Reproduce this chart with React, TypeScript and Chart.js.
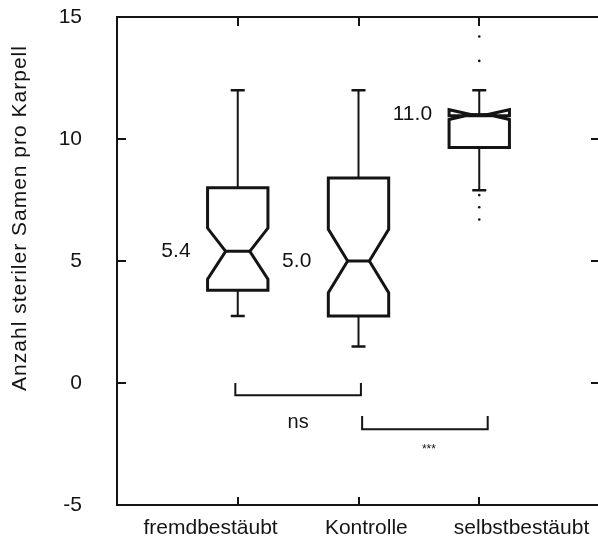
import React, { useEffect, useRef } from 'react';
import { Chart, registerables } from 'chart.js';

Chart.register(...registerables);

// ---- data ----
const categories = ['fremdbestäubt', 'Kontrolle', 'selbstbestäubt'];
const whiskerLow = [2.75, 1.5, 7.9];
const q1 = [3.8, 2.75, 9.65];
const notchLow = [4.25, 3.7, 10.8];
const median = [5.4, 5.0, 11.0];
const notchHigh = [6.35, 6.3, 11.2];
const q3 = [8.0, 8.4, 10.95];
const whiskerHigh = [12.0, 12.0, 12.0];
const outliers: number[][] = [[], [], [14.2, 13.2, 7.7, 7.2, 6.7]];
const medianLabels = ['5.4', '5.0', '11.0'];
const yTicks = [-5, 0, 5, 10, 15];
const yTitle = 'Anzahl steriler Samen pro Karpell';

const bracketFrom = [0.98, 2.03];
const bracketTo = [2.02, 3.07];
const bracketTop = [0, -1.35];
const bracketBase = [-0.5, -1.9];
const bracketText = ['ns', '***'];
const bracketTextY = [-1.6, -2.75];

// ---- style ----
const INK = '#141414';
const FONT = "'Liberation Sans', Arial, Helvetica, sans-serif";
const BOX_HALF = 0.25;
const NOTCH_INNER = [0.1, 0.09, 0.07];
// horizontal shift of category labels relative to their tick (axis units)
const LABEL_SHIFT = [-0.225, 0.065, 0.35];

const zeroPad = (s: any) => {
  s.paddingTop = 0;
  s.paddingBottom = 0;
  s.paddingLeft = 0;
  s.paddingRight = 0;
};

const boxPlugin = {
  id: 'notchedBoxes',
  afterDatasetsDraw(chart: any) {
    const { ctx, chartArea: a, scales } = chart;
    const x = scales.x;
    const y = scales.y;
    ctx.save();
    ctx.strokeStyle = INK;
    ctx.fillStyle = INK;
    ctx.lineCap = 'butt';

    // frame
    ctx.lineWidth = 2;
    ctx.beginPath();
    ctx.rect(a.left, a.top, a.right - a.left, a.bottom - a.top);
    ctx.stroke();

    // inward ticks
    ctx.lineWidth = 2;
    ctx.beginPath();
    yTicks.forEach((v) => {
      const py = Math.round(y.getPixelForValue(v));
      ctx.moveTo(a.left, py);
      ctx.lineTo(a.left + 9, py);
      ctx.moveTo(a.right, py);
      ctx.lineTo(a.right - 9, py);
    });
    categories.forEach((_, i) => {
      const px = Math.round(x.getPixelForValue(i + 1));
      ctx.moveTo(px, a.bottom);
      ctx.lineTo(px, a.bottom - 8);
      ctx.moveTo(px, a.top);
      ctx.lineTo(px, a.top + 9);
    });
    ctx.stroke();

    categories.forEach((_, i) => {
      const c = i + 1;
      const cx = x.getPixelForValue(c);
      const L = x.getPixelForValue(c - BOX_HALF);
      const R = x.getPixelForValue(c + BOX_HALF);
      const iL = x.getPixelForValue(c - NOTCH_INNER[i]);
      const iR = x.getPixelForValue(c + NOTCH_INNER[i]);
      const pQ1 = y.getPixelForValue(q1[i]);
      const pQ3 = y.getPixelForValue(q3[i]);
      const pMed = y.getPixelForValue(median[i]);
      const pNL = y.getPixelForValue(notchLow[i]);
      const pNH = y.getPixelForValue(notchHigh[i]);
      const pWL = y.getPixelForValue(whiskerLow[i]);
      const pWH = y.getPixelForValue(whiskerHigh[i]);

      // whiskers
      ctx.lineWidth = 2;
      ctx.beginPath();
      ctx.moveTo(cx, pQ3);
      ctx.lineTo(cx, pWH);
      ctx.moveTo(cx, pQ1);
      ctx.lineTo(cx, pWL);
      ctx.stroke();
      ctx.lineWidth = 2.5;
      ctx.beginPath();
      ctx.moveTo(cx - 7, pWH);
      ctx.lineTo(cx + 7, pWH);
      ctx.moveTo(cx - 7, pWL);
      ctx.lineTo(cx + 7, pWL);
      ctx.stroke();

      // notched box
      ctx.lineWidth = 3;
      ctx.lineJoin = 'miter';
      ctx.beginPath();
      ctx.moveTo(L, pQ1);
      ctx.lineTo(L, pNL);
      ctx.lineTo(iL, pMed);
      ctx.lineTo(L, pNH);
      ctx.lineTo(L, pQ3);
      ctx.lineTo(R, pQ3);
      ctx.lineTo(R, pNH);
      ctx.lineTo(iR, pMed);
      ctx.lineTo(R, pNL);
      ctx.lineTo(R, pQ1);
      ctx.closePath();
      ctx.stroke();
      // median
      ctx.beginPath();
      ctx.moveTo(iL, pMed);
      ctx.lineTo(iR, pMed);
      ctx.stroke();

      // median label
      ctx.font = `21px ${FONT}`;
      ctx.textAlign = 'right';
      ctx.textBaseline = 'middle';
      ctx.fillText(medianLabels[i], L - 17, pMed);
    });

    // significance brackets
    ctx.lineWidth = 2;
    bracketFrom.forEach((f, k) => {
      const x0 = x.getPixelForValue(f);
      const x1 = x.getPixelForValue(bracketTo[k]);
      const yt = y.getPixelForValue(bracketTop[k]);
      const yb = y.getPixelForValue(bracketBase[k]);
      ctx.beginPath();
      ctx.moveTo(x0, yt);
      ctx.lineTo(x0, yb);
      ctx.lineTo(x1, yb);
      ctx.lineTo(x1, yt);
      ctx.stroke();
      const isStars = bracketText[k].startsWith('*');
      ctx.font = isStars ? `12px ${FONT}` : `20px ${FONT}`;
      ctx.textAlign = 'center';
      ctx.textBaseline = 'middle';
      ctx.fillText(bracketText[k], (x0 + x1) / 2 + (isStars ? 4 : 0), y.getPixelForValue(bracketTextY[k]));
    });

    // y-axis title
    ctx.save();
    ctx.translate(26, 218);
    ctx.rotate(-Math.PI / 2);
    ctx.font = `21px ${FONT}`;
    try { (ctx as any).letterSpacing = '1px'; } catch (e) {}
    ctx.textAlign = 'center';
    ctx.textBaseline = 'alphabetic';
    ctx.fillText(yTitle, 0, 0);
    ctx.restore();

    ctx.restore();
  },
};

export default function App() {
  const ref = useRef<HTMLCanvasElement | null>(null);

  useEffect(() => {
    if (!ref.current) return;
    const outlierPoints: { x: number; y: number }[] = [];
    outliers.forEach((list, i) => list.forEach((v) => outlierPoints.push({ x: i + 1, y: v })));

    const chart = new Chart(ref.current, {
      type: 'scatter',
      data: {
        datasets: [
          {
            data: outlierPoints,
            pointRadius: 1.3,
            pointBackgroundColor: INK,
            pointBorderWidth: 0,
            showLine: false,
          },
        ],
      },
      options: {
        responsive: false,
        animation: false,
        events: [],
        layout: { padding: { top: 17, right: 3, left: 0, bottom: 0 } },
        plugins: { legend: { display: false }, tooltip: { enabled: false } },
        scales: {
          x: {
            type: 'linear',
            min: 0,
            max: 4,
            grid: { display: false, drawTicks: false },
            border: { display: false },
            afterBuildTicks: (s: any) => {
              s.ticks = categories.map((_, i) => ({ value: i + 1 + LABEL_SHIFT[i] }));
            },
            afterFit: (s: any) => {
              s.height = 35;
              zeroPad(s);
            },
            ticks: {
              autoSkip: false,
              maxRotation: 0,
              minRotation: 0,
              padding: 11,
              color: INK,
              font: { family: FONT, size: 21 },
              callback: (v: any) => categories[Math.round(Number(v)) - 1] ?? '',
            },
          },
          y: {
            type: 'linear',
            min: -5,
            max: 15,
            grid: { display: false, drawTicks: false },
            border: { display: false },
            afterBuildTicks: (s: any) => {
              s.ticks = yTicks.map((v) => ({ value: v }));
            },
            afterFit: (s: any) => {
              s.width = 117;
              zeroPad(s);
            },
            ticks: {
              padding: 35,
              color: INK,
              font: { family: FONT, size: 21 },
              callback: (v: any) => String(v),
            },
          },
        },
      },
      plugins: [boxPlugin],
    });
    return () => chart.destroy();
  }, []);

  return (
    <div
      style={{
        position: 'fixed',
        left: 0,
        top: 0,
        width: 598,
        height: 540,
        overflow: 'hidden',
        background: '#fff',
      }}
    >
      <canvas ref={ref} width={604} height={540} style={{ display: 'block' }} />
    </div>
  );
}
